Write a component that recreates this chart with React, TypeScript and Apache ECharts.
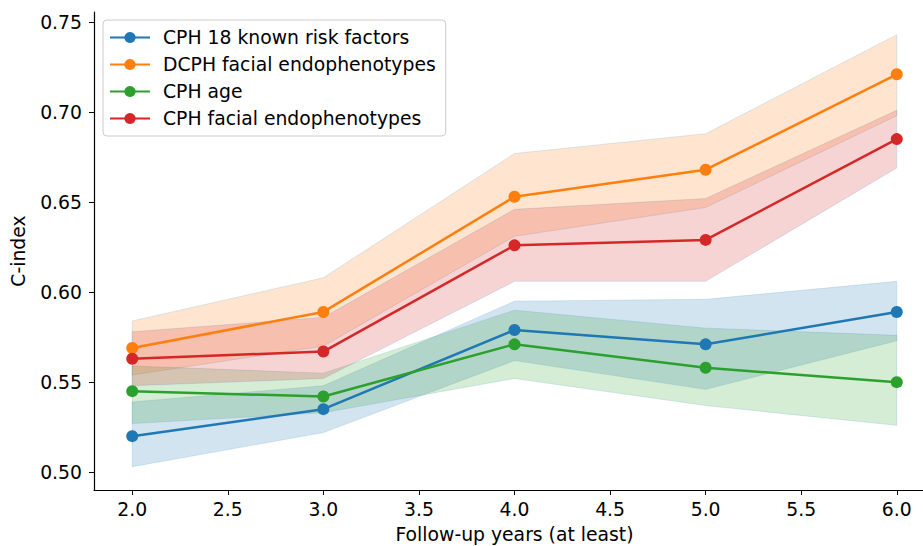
import React, { useEffect, useRef } from "react";
import * as echarts from "echarts";

const years = [2, 3, 4, 5, 6];
const xTicks = [2.0, 2.5, 3.0, 3.5, 4.0, 4.5, 5.0, 5.5, 6.0];
const yTicks = [0.5, 0.55, 0.6, 0.65, 0.7, 0.75];

const names = [
  "CPH 18 known risk factors",
  "DCPH facial endophenotypes",
  "CPH age",
  "CPH facial endophenotypes",
];
const colors = ["#1f77b4", "#ff7f0e", "#2ca02c", "#d62728"];
const bandColors = [
  "rgba(31,119,180,0.2)",
  "rgba(255,127,14,0.2)",
  "rgba(44,160,44,0.2)",
  "rgba(214,39,40,0.2)",
];

const riskMean = [0.52, 0.535, 0.579, 0.571, 0.589];
const riskLow = [0.503, 0.522, 0.562, 0.546, 0.573];
const riskHigh = [0.539, 0.548, 0.595, 0.596, 0.606];

const dcphMean = [0.569, 0.589, 0.653, 0.668, 0.721];
const dcphLow = [0.554, 0.57, 0.631, 0.647, 0.698];
const dcphHigh = [0.584, 0.608, 0.677, 0.688, 0.743];

const ageMean = [0.545, 0.542, 0.571, 0.558, 0.55];
const ageLow = [0.527, 0.533, 0.552, 0.537, 0.526];
const ageHigh = [0.559, 0.555, 0.59, 0.58, 0.576];

const faceMean = [0.563, 0.567, 0.626, 0.629, 0.685];
const faceLow = [0.548, 0.552, 0.606, 0.606, 0.669];
const faceHigh = [0.578, 0.586, 0.646, 0.652, 0.701];

const means = [riskMean, dcphMean, ageMean, faceMean];
const lows = [riskLow, dcphLow, ageLow, faceLow];
const highs = [riskHigh, dcphHigh, ageHigh, faceHigh];

const FONT = "DejaVu Sans";
const FS = 18.8;

export default function App() {
  const ref = useRef<HTMLDivElement>(null);
  useEffect(() => {
    if (!ref.current) return;
    const chart = echarts.init(ref.current, null, { renderer: "svg" });
    const edge = "rgba(31,119,180,0.15)";
    const series: any[] = [];
    for (let i = 0; i < 4; i++) {
      const lo = lows[i];
      const hi = highs[i];
      series.push({
        name: "band-" + i,
        type: "custom",
        silent: true,
        z: 1,
        data: [[years[0], lo[0]]],
        renderItem: (_params: any, api: any) => {
          const pts: number[][] = [];
          for (let k = 0; k < years.length; k++) pts.push(api.coord([years[k], hi[k]]));
          for (let k = years.length - 1; k >= 0; k--) pts.push(api.coord([years[k], lo[k]]));
          return {
            type: "polygon",
            shape: { points: pts },
            style: { fill: bandColors[i], stroke: edge, lineWidth: 1 },
          };
        },
      });
    }
    for (let i = 0; i < 4; i++) {
      series.push({
        name: names[i],
        type: "line",
        data: years.map((x, k) => [x, means[i][k]]),
        symbol: "circle",
        symbolSize: 12,
        color: colors[i],
        lineStyle: { color: colors[i], width: 2.5 },
        itemStyle: { color: colors[i] },
        z: 3 + i,
      });
    }
    chart.setOption({
      animation: false,
      textStyle: { fontFamily: FONT },
      grid: { left: 94, right: -12, top: 12, bottom: 56, outerBoundsMode: "none", containLabel: false },
      legend: {
        data: names,
        orient: "vertical",
        left: 103,
        top: 20,
        padding: [8, 10, 8, 6],
        itemWidth: 40,
        itemHeight: 14,
        itemGap: 8,
        backgroundColor: "rgba(255,255,255,0.8)",
        borderColor: "#cccccc",
        borderWidth: 1,
        borderRadius: 4,
        textStyle: { fontFamily: FONT, fontSize: FS, color: "#000", padding: [0, 0, 0, 8] },
      },
      xAxis: {
        type: "value",
        min: 1.8,
        max: 6.2,
        name: "Follow-up years (at least)",
        nameLocation: "middle",
        nameGap: 35,
        nameTextStyle: { fontFamily: FONT, fontSize: FS, color: "#000" },
        splitLine: { show: false },
        axisLine: { lineStyle: { color: "#000", width: 1.2 } },
        axisTick: { show: true, length: 5, customValues: xTicks, lineStyle: { color: "#000" } },
        axisLabel: {
          customValues: xTicks,
          formatter: (v: number) => v.toFixed(1),
          fontFamily: FONT,
          fontSize: FS,
          color: "#000",
          margin: 10,
        },
      },
      yAxis: {
        type: "value",
        min: 0.4901,
        max: 0.7556,
        name: "C-index",
        nameLocation: "middle",
        nameGap: 66,
        nameTextStyle: { fontFamily: FONT, fontSize: FS, color: "#000" },
        splitLine: { show: false },
        axisLine: { show: true, lineStyle: { color: "#000", width: 1.2 } },
        axisTick: { show: true, length: 5, customValues: yTicks, lineStyle: { color: "#000" } },
        axisLabel: {
          customValues: yTicks,
          formatter: (v: number) => v.toFixed(2),
          fontFamily: FONT,
          fontSize: FS,
          color: "#000",
          margin: 12,
        },
      },
      series,
    });
    return () => chart.dispose();
  }, []);
  return <div ref={ref} style={{ width: 923, height: 546, position: "absolute", left: 0, top: 0 }} />;
}
